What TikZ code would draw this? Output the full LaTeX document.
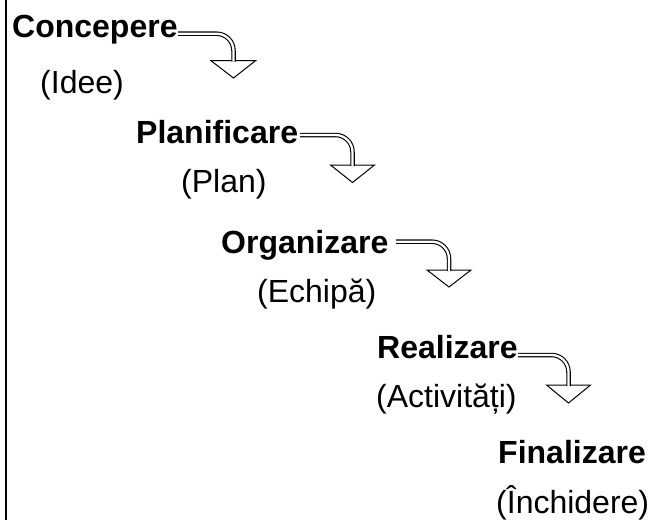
\documentclass[tikz,border=0pt]{standalone}
\usepackage{fontspec}
\setmainfont{Liberation Sans}
\usetikzlibrary{calc}
\tikzset{
  stage/.style={anchor=base west, inner sep=0pt, font=\fontsize{32}{38}\selectfont\bfseries},
  note/.style={anchor=base west, inner sep=0pt, font=\fontsize{32}{38}\selectfont},
  shaft/.style={draw=black, line width=1.1pt, double=white, double distance=2.3pt, rounded corners=17pt},
  tiphead/.style={draw=black, fill=white, line width=1pt, line join=miter},
}
\begin{document}
\begin{tikzpicture}[x=1pt, y=-1pt]
\useasboundingbox (0,0) rectangle (655,520);
\draw[line width=2pt] (5.5,0) -- (5.5,520);

\node[stage] (c1) at (12,37) {Concepere};
\node[note]  (p1) at (40,93) {(Idee)};
\node[stage] (c2) at (136,143) {Planificare};
\node[note]  (p2) at (181,192) {(Plan)};
\node[stage] (c3) at (221,253) {Organizare};
\node[note]  (p3) at (257,302) {(Echipă)};
\node[stage] (c4) at (377,358) {Realizare};
\node[note]  (p4) at (376,407) {(Activități)};
\node[stage] (c5) at (498,463) {Finalizare};
\node[note]  (p5) at (496,513) {(Închidere)};

% arrow 1
\coordinate (s1) at (178,33.7);
\coordinate (k1) at (233.5,33.7);
\coordinate (e1) at (233.5,61.7);
\draw[tiphead] (211,60.7) -- (255.5,60.7) -- (233.5,78) -- cycle;
\draw[shaft] (s1) -- (k1) -- (e1);
% arrow 2
\coordinate (s2) at (300,135);
\coordinate (k2) at (352.5,135);
\coordinate (e2) at (352.5,166);
\draw[tiphead] (330.5,165) -- (374.5,165) -- (352.5,182.5) -- cycle;
\draw[shaft] (s2) -- (k2) -- (e2);
% arrow 3
\coordinate (s3) at (396,241.7);
\coordinate (k3) at (449,241.7);
\coordinate (e3) at (449,271);
\draw[tiphead] (427,270) -- (471,270) -- (449,287) -- cycle;
\draw[shaft] (s3) -- (k3) -- (e3);
% arrow 4
\coordinate (s4) at (518,355);
\coordinate (k4) at (568.5,355);
\coordinate (e4) at (568.5,386);
\draw[tiphead] (546.5,385) -- (590.5,385) -- (568.5,403) -- cycle;
\draw[shaft] (s4) -- (k4) -- (e4);
\end{tikzpicture}
\end{document}
